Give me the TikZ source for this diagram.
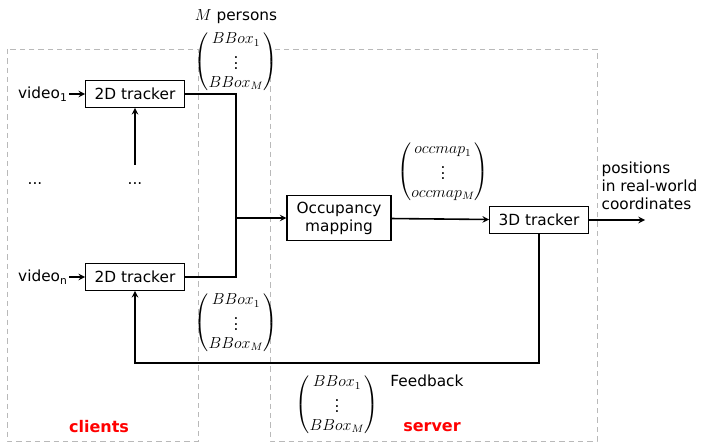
\documentclass[tikz,border=0pt]{standalone}
\usepackage{amsmath}
\usepackage{fontspec}
\setmainfont{DejaVu Sans}
\usetikzlibrary{positioning,arrows}
\tikzstyle{tracker} = [rectangle, minimum width=74pt, minimum height=20pt, text centered, draw=black, line width=0.8pt, fill=white]
\tikzstyle{region} = [draw=gray!55, dash pattern=on 4pt off 3pt, line width=0.6pt]
\tikzstyle{arrow} = [->,>=stealth,line width=1.2pt]
\tikzstyle{link} = [line width=1.2pt]
\tikzstyle{tag} = [text=red, font=\fontsize{12}{14}\selectfont\bfseries]

\begin{document}
\begin{tikzpicture}[x=0.75pt, y=-0.75pt, font=\fontsize{11.5}{13.5}\selectfont]
        \useasboundingbox (0,0) rectangle (704,445);
        % client and server regions
        \draw [region] (7,49) rectangle (198,441);
        \draw [region] (270,49) rectangle (597,441);
        \node (clients) [tag] at (99,427) {clients};
        \node (server) [tag] at (432,427) {server};

        \node (tracker-1) [tracker] at (135,94) {2D tracker};
        \node (tracker-n) [tracker] at (135,277) {2D tracker};
        \node (video-1) [left=12pt of tracker-1, inner sep=1pt] {video\textsubscript{1}};
        \node (video-n) [left=12pt of tracker-n, inner sep=1pt] {video\textsubscript{n}};
        \node (dots-video) at (35,184) {...};
        \node (dots-tracker) at (135,184) {...};
        \coordinate (feed-up) at (135,165);

        \node (occupancy) [tracker, minimum width=78pt, minimum height=34pt, align=center] at (339,218) {Occupancy\\mapping};
        \node (tracker-3d) [tracker] at (539,220) {3D tracker};
        \coordinate (merge) at (236,218);
        \coordinate (out) at (645,220);
        \coordinate (fb) at (135,363);

        \node (persons) at (236,17) {$M$ persons};
        \node (bbox-top) at (236,62) {$\begin{pmatrix} BBox_1\\ \vdots\\ BBox_M\end{pmatrix}$};
        \node (bbox-bottom) at (236,323) {$\begin{pmatrix} BBox_1\\ \vdots\\ BBox_M\end{pmatrix}$};
        \node (occmap) at (443,172) {$\begin{pmatrix} occmap_1\\ \vdots\\ occmap_M\end{pmatrix}$};
        \node (bbox-feedback) at (337,405) {$\begin{pmatrix} BBox_1\\ \vdots\\ BBox_M\end{pmatrix}$};
        \node (feedback) at (427,381) {Feedback};
        \node (positions) [anchor=south west, align=left, inner sep=1pt] at (600,211) {positions\\in real-world\\coordinates};

        \draw [arrow] (video-1) -- (tracker-1);
        \draw [arrow] (video-n) -- (tracker-n);
        \draw [arrow] (feed-up) -- (tracker-1);
        \draw [link] (tracker-1.east) -| (merge);
        \draw [link] (tracker-n.east) -| (merge);
        \draw [arrow] (merge) -- (occupancy);
        \draw [arrow] (occupancy) -- (tracker-3d);
        \draw [arrow] (tracker-3d) -- (out);
        \draw [arrow] (tracker-3d.south) |- (fb) -- (tracker-n.south);
    \end{tikzpicture}
\end{document}
